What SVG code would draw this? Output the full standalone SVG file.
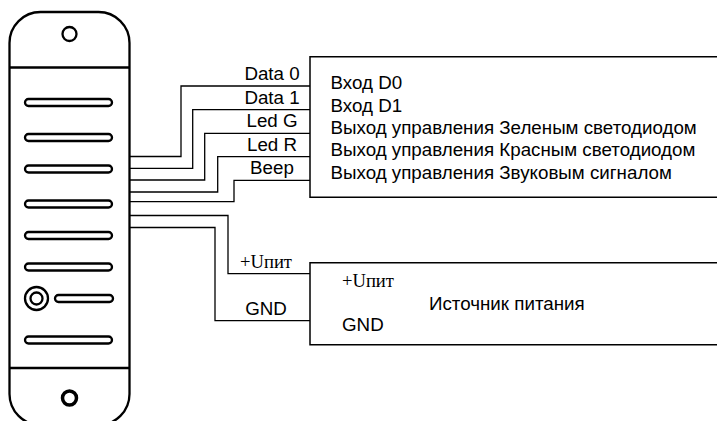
<svg xmlns="http://www.w3.org/2000/svg" width="717" height="421" viewBox="0 0 717 421">
<style>
.o{fill:none;stroke:#000;stroke-width:2.300}
.w{fill:none;stroke:#000;stroke-width:1.300}
.b{fill:none;stroke:#000;stroke-width:1.500}
text{font-family:"Liberation Sans",Arial,sans-serif;font-size:18.750px;fill:#000}
.s{font-family:"Liberation Serif","Times New Roman",serif;font-size:18.600px}
.m{text-anchor:middle}
</style>
<rect width="717" height="421" fill="#fff"/>
<g id="reader">
<path class="o" d="M9.500 43A31 31 0 0 1 40.500 12H98.500A31 31 0 0 1 129.500 43V394A31 31 0 0 1 98.500 425H40.500A31 31 0 0 1 9.500 394Z"/>
<path class="o" d="M9.500 67.500H129.500M9.500 368H129.500"/>
<circle class="o" cx="69.500" cy="34" r="7"/>
<circle cx="69.500" cy="398" r="7" fill="none" stroke="#000" stroke-width="3.500"/>
<rect class="o" x="25" y="99" width="87" height="7" rx="3.500"/>
<rect class="o" x="25" y="134" width="87" height="7" rx="3.500"/>
<rect class="o" x="25" y="165.500" width="87" height="7" rx="3.500"/>
<rect class="o" x="25" y="200.500" width="87" height="7" rx="3.500"/>
<rect class="o" x="25" y="232" width="87" height="7" rx="3.500"/>
<rect class="o" x="25" y="263.500" width="87" height="7" rx="3.500"/>
<circle class="o" cx="36.500" cy="298.500" r="11.500"/>
<circle class="o" cx="36.500" cy="298.500" r="6"/>
<rect class="o" x="55" y="295" width="58" height="7" rx="3.500"/>
<rect class="o" x="25" y="336.500" width="87" height="7" rx="3.500"/>
</g>
<g id="connectors">
<path class="w" d="M130 156.500H181V86H310"/>
<path class="w" d="M130 168.300H192.700V109.700H310"/>
<path class="w" d="M130 180H204.700V133.300H310"/>
<path class="w" d="M130 192H217.700V156.700H310"/>
<path class="w" d="M130 201.700H234V180.300H310"/>
<path class="w" d="M130 215.500H228V273.700H310"/>
<path class="w" d="M130 227.500H215V320.700H310"/>
<text class="m" x="272" y="80">Data 0</text>
<text class="m" x="272" y="104">Data 1</text>
<text class="m" x="272" y="127">Led G</text>
<text class="m" x="272" y="151">Led R</text>
<text class="m" x="272" y="174">Beep</text>
<text class="s m" x="266" y="268">+Uпит</text>
<text class="m" x="266" y="315">GND</text>
</g>
<g id="controller">
<path class="b" d="M717 56.700H310V197.300H717"/>
<text x="330.500" y="89">Вход D0</text>
<text x="330.500" y="111.500">Вход D1</text>
<text x="330.500" y="134">Выход управления Зеленым светодиодом</text>
<text x="330.500" y="156">Выход управления Красным светодиодом</text>
<text x="330.500" y="179">Выход управления Звуковым сигналом</text>
</g>
<g id="power">
<path class="b" d="M717 262.700H310V344.700H717"/>
<text class="s" x="342" y="287">+Uпит</text>
<text x="342" y="331">GND</text>
<text x="429" y="310">Источник питания</text>
</g>
</svg>
